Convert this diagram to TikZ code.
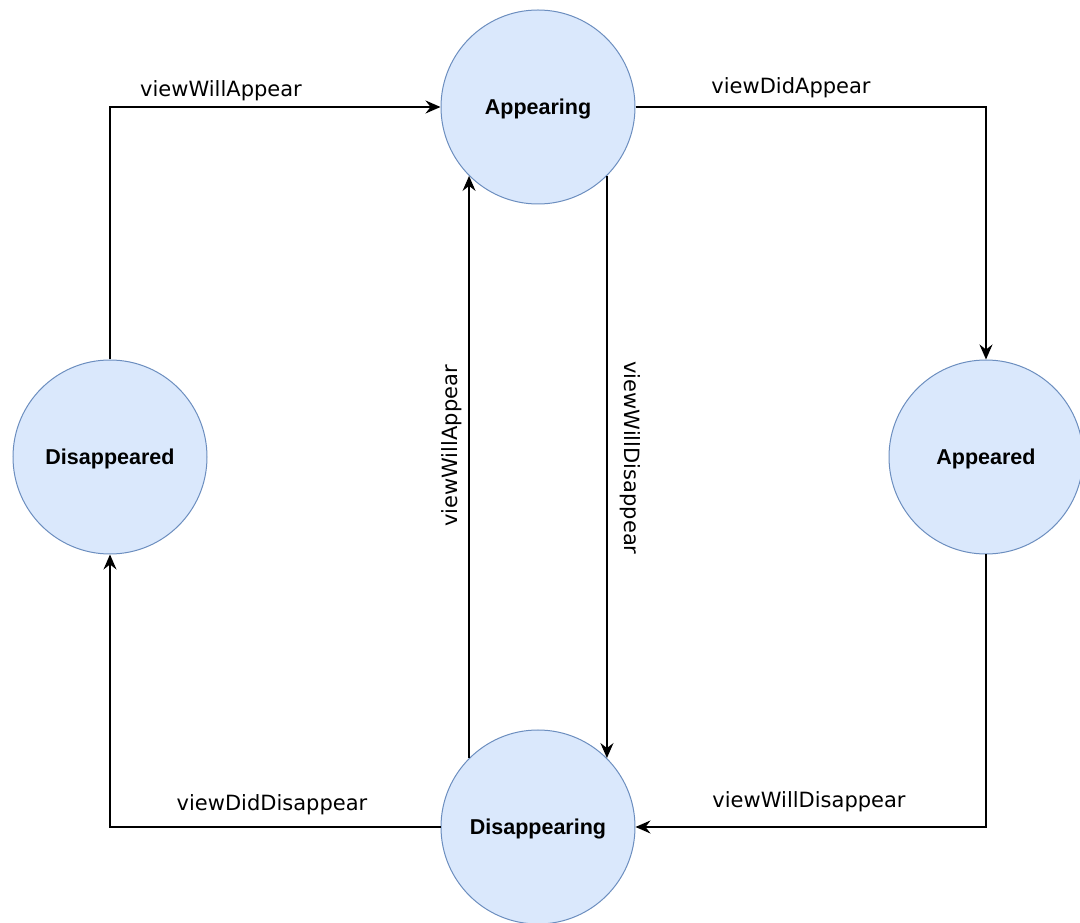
\documentclass[tikz,border=0pt]{standalone}
\usepackage{fontspec}
\usetikzlibrary{arrows.meta}
\newfontfamily\statefont{Liberation Sans}
\newfontfamily\eventfont{DejaVu Sans}
\definecolor{statefill}{HTML}{DAE8FC}
\definecolor{stateline}{HTML}{6C8EBF}
\begin{document}
\begin{tikzpicture}[x=1pt,y=1pt,
  state/.style={circle,draw=stateline,fill=statefill,line width=1pt,
    minimum size=194pt,inner sep=0pt,text depth=0pt,
    font=\statefont\bfseries\fontsize{21.5}{25}\selectfont},
  event/.style={font=\eventfont\fontsize{21}{25}\selectfont,inner sep=0pt},
  trans/.style={draw=black,line width=1.4pt,
    -{Stealth[length=15pt,width=13pt,inset=5pt]}}]
\useasboundingbox (0,0) rectangle (1080,922);

% states
\node[state] (appearing)    at (538,815) {Appearing};
\node[state] (disappearing) at (538,95)  {Disappearing};
\node[state] (disappeared)  at (110,465) {Disappeared};
\node[state] (appeared)     at (986,465) {Appeared};

% transitions
\draw[trans] (disappeared.north) |- (appearing.west);
\draw[trans] (appearing.east) -| (appeared.north);
\draw[trans] (appeared.south) |- (disappearing.east);
\draw[trans] (disappearing.west) -| (disappeared.south);
\draw[trans] (disappearing.135) -- (appearing.225);
\draw[trans] (appearing.-45) -- (disappearing.45);

% event labels
\node[event,anchor=base] (l1) at (221,825) {viewWillAppear};
\node[event,anchor=base] (l2) at (791,828) {viewDidAppear};
\node[event,anchor=base] (l3) at (809,114) {viewWillDisappear};
\node[event,anchor=base] (l4) at (272,111) {viewDidDisappear};
\node[event,rotate=90]  (l5) at (452,476) {viewWillAppear};
\node[event,rotate=-90] (l6) at (630,464) {viewWillDisappear};
\end{tikzpicture}
\end{document}
